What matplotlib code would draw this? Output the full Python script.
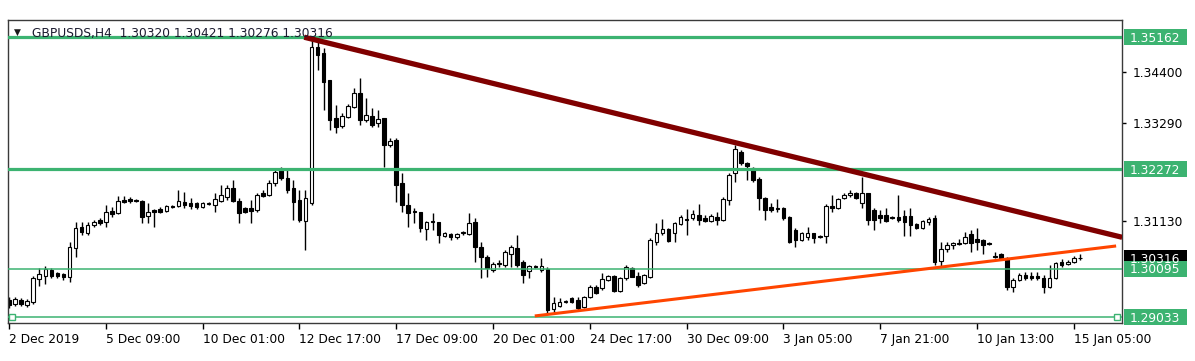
import matplotlib
matplotlib.use('Agg')
import matplotlib.pyplot as plt
from matplotlib.patches import Rectangle
from matplotlib.transforms import IdentityTransform

plt.rcParams.update({'font.size': 8.8, 'font.family': 'DejaVu Sans'})

# GBPUSD H4 candles (one value per bar)
opens = [
    1.29407, 1.29319, 1.29407, 1.29298, 1.29363, 1.29867, 1.29933, 1.30064, 1.29998, 1.29976,
    1.29911, 1.30546, 1.31006, 1.30874, 1.31050, 1.31159, 1.31115, 1.31356, 1.31312, 1.31597,
    1.31619, 1.31590, 1.31575, 1.31247, 1.31378, 1.31400, 1.31356, 1.31466, 1.31466, 1.31553,
    1.31531, 1.31531, 1.31444, 1.31509, 1.31488, 1.31575, 1.31663, 1.31860, 1.31575, 1.31422,
    1.31422, 1.31378, 1.31750, 1.31707, 1.31969, 1.32254, 1.32079, 1.31860, 1.31597, 1.31137,
    1.31531, 1.34948, 1.34816, 1.34225, 1.33393, 1.33218, 1.33415, 1.33634, 1.33940, 1.33349,
    1.33437, 1.33283, 1.33393, 1.32802, 1.32911, 1.31969, 1.31488, 1.31356, 1.31334, 1.30962,
    1.31137, 1.31115, 1.30809, 1.30852, 1.30787, 1.30874, 1.30852, 1.31115, 1.30568, 1.30349,
    1.30064, 1.30217, 1.30174, 1.30414, 1.30546, 1.30239, 1.30042, 1.30152, 1.30064, 1.30086,
    1.29210, 1.29276, 1.29363, 1.29451, 1.29407, 1.29254, 1.29473, 1.29692, 1.29670, 1.29845,
    1.29933, 1.29604, 1.29889, 1.30108, 1.29933, 1.29779, 1.29911, 1.30677, 1.30874, 1.30962,
    1.30874, 1.31071, 1.31181, 1.31203, 1.31269, 1.31203, 1.31137, 1.31225, 1.31159, 1.31597,
    1.32188, 1.32648, 1.32407, 1.32298, 1.32057, 1.31641, 1.31444, 1.31422, 1.31422, 1.31225,
    1.30940, 1.30721, 1.30787, 1.30874, 1.30809, 1.30809, 1.31466, 1.31422, 1.31641, 1.31707,
    1.31750, 1.31531, 1.31750, 1.31378, 1.31269, 1.31269, 1.31225, 1.31225, 1.31247, 1.31247,
    1.31071, 1.30984, 1.31115, 1.31203, 1.30261, 1.30524, 1.30612, 1.30655, 1.30655, 1.30852,
    1.30743, 1.30721, 1.30655, 1.30371, 1.30414, 1.30327, 1.29692, 1.29845, 1.29955, 1.29933,
    1.29933, 1.29889, 1.29692, 1.29889, 1.30239, 1.30195, 1.30239, 1.30320,
]
highs = [
    1.29473, 1.29473, 1.29451, 1.29429, 1.29933, 1.30108, 1.30152, 1.30108, 1.30020, 1.29998,
    1.30677, 1.31115, 1.31115, 1.31115, 1.31159, 1.31203, 1.31488, 1.31444, 1.31685, 1.31685,
    1.31663, 1.31619, 1.31597, 1.31531, 1.31400, 1.31444, 1.31488, 1.31488, 1.31816, 1.31772,
    1.31641, 1.31553, 1.31553, 1.31553, 1.31750, 1.31926, 1.31926, 1.32035, 1.31641, 1.31444,
    1.31597, 1.31750, 1.31816, 1.32035, 1.32298, 1.32320, 1.32254, 1.32035, 1.31816, 1.31816,
    1.35162, 1.35057, 1.34926, 1.34225, 1.33678, 1.33502, 1.33699, 1.34050, 1.34269, 1.33831,
    1.33612, 1.33568, 1.33393, 1.32955, 1.32955, 1.32188, 1.31750, 1.31422, 1.31334, 1.31137,
    1.31312, 1.31115, 1.30896, 1.30874, 1.30874, 1.30918, 1.31312, 1.31203, 1.30677, 1.30393,
    1.30239, 1.30283, 1.30502, 1.30612, 1.30831, 1.30283, 1.30174, 1.30174, 1.30327, 1.30130,
    1.29473, 1.29451, 1.29407, 1.29473, 1.29473, 1.29495, 1.29736, 1.29736, 1.29998, 1.29955,
    1.29955, 1.29911, 1.30174, 1.30130, 1.30020, 1.29976, 1.30765, 1.31093, 1.31181, 1.30984,
    1.31115, 1.31269, 1.31400, 1.31378, 1.31509, 1.31269, 1.31290, 1.31334, 1.31663, 1.32188,
    1.32802, 1.32692, 1.32429, 1.32320, 1.32101, 1.31663, 1.31531, 1.31619, 1.31444, 1.31247,
    1.30984, 1.30896, 1.31006, 1.30874, 1.30831, 1.31509, 1.31707, 1.31641, 1.31750, 1.31816,
    1.31772, 1.32101, 1.31750, 1.31422, 1.31378, 1.31422, 1.31247, 1.31707, 1.31378, 1.31422,
    1.31093, 1.31159, 1.31225, 1.31269, 1.30677, 1.30677, 1.30677, 1.30743, 1.30896, 1.30940,
    1.30984, 1.30743, 1.30677, 1.30458, 1.30436, 1.30349, 1.29889, 1.29998, 1.30020, 1.30020,
    1.30020, 1.29955, 1.30174, 1.30239, 1.30305, 1.30283, 1.30371, 1.30421,
]
lows = [
    1.29232, 1.29276, 1.29276, 1.29254, 1.29319, 1.29714, 1.29757, 1.29889, 1.29889, 1.29845,
    1.29801, 1.30349, 1.30831, 1.30831, 1.31006, 1.31050, 1.31006, 1.31225, 1.31290, 1.31531,
    1.31531, 1.31553, 1.31093, 1.31093, 1.31006, 1.31312, 1.31334, 1.31422, 1.31444, 1.31422,
    1.31400, 1.31400, 1.31422, 1.31488, 1.31334, 1.31553, 1.31597, 1.31553, 1.31093, 1.31312,
    1.31093, 1.31334, 1.31663, 1.31685, 1.31904, 1.32035, 1.31750, 1.31159, 1.31115, 1.30502,
    1.31488, 1.34444, 1.33568, 1.33130, 1.33064, 1.33174, 1.33393, 1.33612, 1.33240, 1.33305,
    1.33196, 1.33196, 1.32320, 1.32758, 1.31553, 1.31334, 1.31006, 1.31093, 1.30896, 1.30721,
    1.30940, 1.30655, 1.30787, 1.30721, 1.30743, 1.30831, 1.30831, 1.30239, 1.29889, 1.29911,
    1.30020, 1.30130, 1.30130, 1.30130, 1.30130, 1.29779, 1.29889, 1.30108, 1.30020, 1.29122,
    1.29122, 1.29254, 1.29341, 1.29341, 1.29188, 1.29232, 1.29451, 1.29538, 1.29626, 1.29823,
    1.29582, 1.29582, 1.29845, 1.29911, 1.29692, 1.29757, 1.29889, 1.30612, 1.30831, 1.30677,
    1.30677, 1.31050, 1.30831, 1.31159, 1.31050, 1.31115, 1.31115, 1.31050, 1.31137, 1.31488,
    1.31991, 1.32364, 1.32035, 1.31991, 1.31378, 1.31159, 1.31334, 1.31334, 1.31159, 1.30655,
    1.30568, 1.30699, 1.30721, 1.30655, 1.30765, 1.30655, 1.31334, 1.31400, 1.31619, 1.31663,
    1.31619, 1.31422, 1.31050, 1.30940, 1.31093, 1.31115, 1.31181, 1.31115, 1.30809, 1.30809,
    1.30962, 1.30962, 1.31050, 1.30174, 1.30130, 1.30458, 1.30524, 1.30612, 1.30633, 1.30458,
    1.30502, 1.30414, 1.30612, 1.30327, 1.30305, 1.29626, 1.29582, 1.29823, 1.29845, 1.29845,
    1.29845, 1.29560, 1.29670, 1.29867, 1.30130, 1.30174, 1.30217, 1.30276,
]
closes = [
    1.29298, 1.29429, 1.29319, 1.29385, 1.29889, 1.29976, 1.30086, 1.29933, 1.29933, 1.29911,
    1.30568, 1.30984, 1.30896, 1.31050, 1.31115, 1.31093, 1.31334, 1.31290, 1.31575, 1.31553,
    1.31575, 1.31575, 1.31225, 1.31334, 1.31334, 1.31334, 1.31466, 1.31444, 1.31575, 1.31488,
    1.31466, 1.31444, 1.31531, 1.31531, 1.31619, 1.31707, 1.31860, 1.31575, 1.31312, 1.31334,
    1.31356, 1.31707, 1.31685, 1.31969, 1.32210, 1.32079, 1.31816, 1.31553, 1.31159, 1.31641,
    1.34948, 1.34773, 1.34181, 1.33349, 1.33196, 1.33437, 1.33656, 1.33940, 1.33349, 1.33459,
    1.33240, 1.33371, 1.32802, 1.32889, 1.31926, 1.31488, 1.31312, 1.31334, 1.30984, 1.31115,
    1.31115, 1.30831, 1.30874, 1.30787, 1.30852, 1.30896, 1.31093, 1.30568, 1.30349, 1.30108,
    1.30195, 1.30195, 1.30458, 1.30568, 1.30174, 1.29955, 1.30152, 1.30130, 1.30152, 1.29188,
    1.29341, 1.29363, 1.29385, 1.29363, 1.29232, 1.29473, 1.29692, 1.29560, 1.29867, 1.29933,
    1.29604, 1.29889, 1.30130, 1.29911, 1.29736, 1.29955, 1.30721, 1.30874, 1.30962, 1.30699,
    1.31093, 1.31225, 1.31159, 1.31290, 1.31159, 1.31137, 1.31247, 1.31159, 1.31619, 1.32145,
    1.32714, 1.32407, 1.32342, 1.32035, 1.31641, 1.31378, 1.31378, 1.31400, 1.31203, 1.30677,
    1.30721, 1.30874, 1.30874, 1.30765, 1.30787, 1.31466, 1.31422, 1.31619, 1.31707, 1.31750,
    1.31641, 1.31750, 1.31159, 1.31159, 1.31203, 1.31137, 1.31203, 1.31159, 1.31115, 1.31050,
    1.30984, 1.31137, 1.31181, 1.30239, 1.30524, 1.30612, 1.30655, 1.30633, 1.30787, 1.30655,
    1.30677, 1.30612, 1.30633, 1.30349, 1.30327, 1.29692, 1.29845, 1.29955, 1.29889, 1.29889,
    1.29889, 1.29692, 1.29889, 1.30217, 1.30174, 1.30239, 1.30327, 1.30316,
]

date_labels = ['2 Dec 2019', '5 Dec 09:00', '10 Dec 01:00', '12 Dec 17:00', '17 Dec 09:00',
               '20 Dec 01:00', '24 Dec 17:00', '30 Dec 09:00', '3 Jan 05:00', '7 Jan 21:00',
               '10 Jan 13:00', '15 Jan 05:00']
bars_per_label = 16

# the other scale prices sit under the level boxes, so only these show
price_ticks = [1.34400, 1.33290, 1.31130]

# horizontal levels drawn on the chart
levels = [1.35162, 1.32272, 1.30095, 1.29033]
level_widths = [2.3, 2.3, 1.1, 1.1]

# trend lines: (bar, price) anchors
down_bars = [48.8, 184.0]
down_prices = [1.35162, 1.30780]
up_bars = [86.9, 183.0]
up_prices = [1.29057, 1.30590]

symbol = 'GBPUSDS,H4'

green = '#3cb371'
W, H = 1195, 361

fig = plt.figure(figsize=(W / 100, H / 100), dpi=100)
fig.patch.set_facecolor('white')
ax = fig.add_axes([8 / W, 38 / H, 1114 / W, 303 / H])

n = len(opens)
x = list(range(n))
bull = [c >= o for o, c in zip(opens, closes)]

# wicks then bodies
ax.vlines(x, lows, highs, color='black', lw=1, zorder=2)
bottoms = [min(o, c) for o, c in zip(opens, closes)]
heights = [abs(c - o) for o, c in zip(opens, closes)]
ax.bar(x, heights, bottom=bottoms, width=0.6,
       color=['white' if b else 'black' for b in bull],
       edgecolor='black', linewidth=0.8, zorder=2.5)

for lvl, lw in zip(levels, level_widths):
    ax.axhline(lvl, color=green, lw=lw, zorder=3)
ax.plot([0.5, 183.2], [levels[3], levels[3]], 's', ms=4.2, mfc='white', mec=green,
        mew=1, zorder=3.5)

ax.plot(down_bars, down_prices, color='#800000', lw=3.8, zorder=4,
        solid_capstyle='butt')
ax.plot(up_bars, up_prices, color='#ff4500', lw=2.2, zorder=4,
        solid_capstyle='butt')

ax.set_xlim(-0.17, 183.97)
ax.set_ylim(1.28903, 1.35539)

ax.set_xticks(range(0, bars_per_label * len(date_labels), bars_per_label))
ax.set_xticklabels(date_labels, ha='left')
ax.tick_params(axis='x', length=4, width=1, pad=3, colors='black')

ax.yaxis.tick_right()
ax.set_yticks(price_ticks)
ax.set_yticklabels([f'{p:.5f}' for p in price_ticks])
ax.tick_params(axis='y', length=3, width=1, pad=5, colors='black')

for sp in ax.spines.values():
    sp.set_color('#3a3a3a')
    sp.set_linewidth(1)

ident = IdentityTransform()

# header line (symbol + OHLC of the last bar)
header = f'{symbol}  {opens[-1]:.5f} {highs[-1]:.5f} {lows[-1]:.5f} {closes[-1]:.5f}'
fig.text(14, H - 35, '\u25bc', fontsize=6.5, color='#1a1a1a', transform=ident,
         va='baseline', zorder=0.5)
fig.text(32, H - 37, header, color='#1a1a2e', transform=ident, va='baseline',
         zorder=0.5)


def price_box(price, color):
    y = ax.transData.transform((0, price))[1]
    fig.add_artist(Rectangle((1124, y - 8), 63, 16, transform=ident,
                             facecolor=color, edgecolor=color, lw=0, zorder=5))
    fig.text(1130, y - 4.5, f'{price:.5f}', color='white', transform=ident,
             va='baseline', ha='left', zorder=6)


price_box(closes[-1], 'black')
for lvl in levels:
    price_box(lvl, green)

fig.savefig('out.png', dpi=100, facecolor='white')
